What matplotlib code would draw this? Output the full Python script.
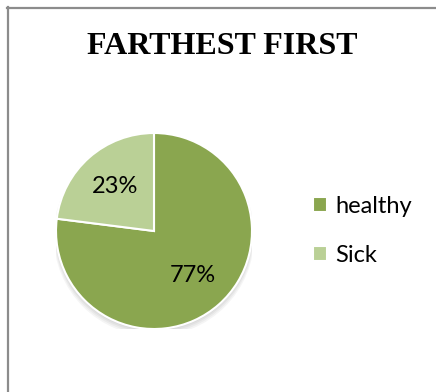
import matplotlib
matplotlib.use("Agg")
import matplotlib.pyplot as plt
from matplotlib.lines import Line2D

# data
labels = ["healthy", "Sick"]
shares = [77, 23]
colors = ["#8aa64f", "#bad096"]
title = "FARTHEST FIRST"

W, H, dpi = 436, 392, 100
fig = plt.figure(figsize=(W / dpi, H / dpi), dpi=dpi)

# gray frame (top and left only are visible)
fig.add_artist(Line2D([7 / W, 1], [1 - 7.5 / H, 1 - 7.5 / H], color="#8c8c8c", lw=1.6))
fig.add_artist(Line2D([7.5 / W, 7.5 / W], [0, 1 - 7 / H], color="#8c8c8c", lw=1.6))

fig.text(222 / W, 1 - 47 / H, title, ha="center", va="center",
         fontsize=23, fontweight="bold", family="Liberation Serif")

# pie, centre (154, 231) px, radius 98 px
cx, cy, r = 154, 231, 98
ax = fig.add_axes([(cx - r) / W, (H - cy - r) / H, 2 * r / W, 2 * r / H])

# soft shadow under the pie
for i in range(4):
    sh = plt.Circle((0.0, -0.02 - 0.01 * i), 1.0 + 0.008 * i, color="black", alpha=0.04, lw=0)
    ax.add_patch(sh)

wedges, texts, autotexts = ax.pie(
    shares, colors=colors, startangle=90, counterclock=False,
    autopct="%d%%", pctdistance=0.6,
    wedgeprops=dict(edgecolor="white", linewidth=1.5),
    textprops=dict(fontsize=17, family="Lato", color="black"))
ax.set_xlim(-1, 1)
ax.set_ylim(-1, 1)
ax.set_aspect("equal")
ax.axis("off")

fig.legend(wedges, labels, loc="center left",
           bbox_to_anchor=(313 / W, 1 - 231 / H),
           frameon=False, prop=dict(family="Lato", size=17), borderpad=0,
           borderaxespad=0,
           handlelength=0.6, handleheight=0.6, handletextpad=0.35,
           labelspacing=1.2)

fig.savefig("out.png", dpi=dpi)
